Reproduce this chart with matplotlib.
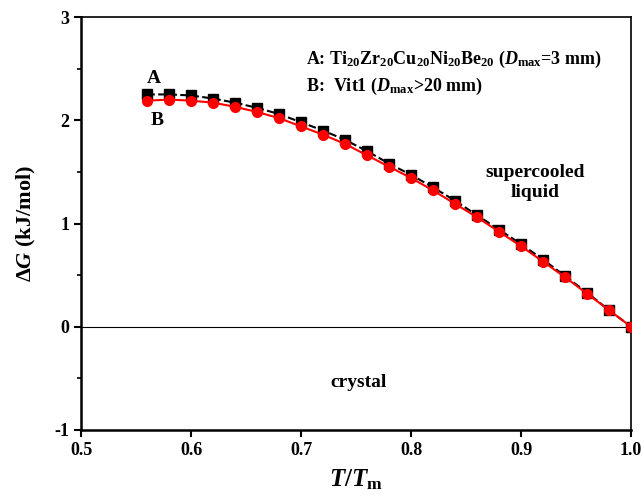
import matplotlib

matplotlib.use("Agg")
import matplotlib.pyplot as plt
from matplotlib.ticker import MultipleLocator

plt.rcParams["font.family"] = "Liberation Serif"
plt.rcParams["font.weight"] = "bold"
plt.rcParams["axes.labelweight"] = "bold"
plt.rcParams["mathtext.fontset"] = "custom"
plt.rcParams["mathtext.rm"] = "Liberation Serif:bold"
plt.rcParams["mathtext.it"] = "Liberation Serif:bold:italic"
plt.rcParams["mathtext.bf"] = "Liberation Serif:bold"

# reduced temperature T/Tm
t_ratio = [0.56, 0.58, 0.60, 0.62, 0.64, 0.66, 0.68, 0.70, 0.72, 0.74, 0.76, 0.78,
           0.80, 0.82, 0.84, 0.86, 0.88, 0.90, 0.92, 0.94, 0.96, 0.98, 1.00]
# Gibbs free energy difference, kJ/mol
dg_a = [2.25, 2.25, 2.24, 2.21, 2.17, 2.12, 2.06, 1.98, 1.90, 1.81, 1.70, 1.58,
        1.47, 1.35, 1.22, 1.08, 0.94, 0.80, 0.65, 0.49, 0.33, 0.16, 0.00]
dg_b = [2.19, 2.20, 2.19, 2.17, 2.13, 2.08, 2.02, 1.94, 1.86, 1.77, 1.66, 1.55,
        1.44, 1.32, 1.19, 1.06, 0.92, 0.78, 0.63, 0.48, 0.32, 0.16, 0.00]

fig = plt.figure(figsize=(6.44, 5.0), dpi=100)
ax = fig.add_axes([0.126, 0.14, 0.854, 0.826])

ax.axhline(0, color="black", linewidth=0.8)
ax.plot(t_ratio, dg_a, color="black", linestyle="--", linewidth=1.5,
        marker="s", markersize=6.5, zorder=3)
ax.plot(t_ratio, dg_b, color="red", linestyle="-", linewidth=1.5,
        marker="o", markersize=7, zorder=4)

ax.set_xlim(0.5, 1.0)
ax.set_ylim(-1, 3)
ax.yaxis.set_minor_locator(MultipleLocator(0.5))
ax.set_xticks([0.5, 0.6, 0.7, 0.8, 0.9, 1.0])
ax.set_xticklabels(["0.5", "0.6", "0.7", "0.8", "0.9", "1.0"])
ax.set_yticks([-1, 0, 1, 2, 3])
ax.set_yticklabels(["-1", "0", "1", "2", "3"])
ax.tick_params(which="major", direction="out", length=5, width=1.5, labelsize=13)
ax.tick_params(which="minor", direction="out", length=3, width=1.2)
for side in ("left", "bottom"):
    ax.spines[side].set_linewidth(1.8)
for side in ("top", "right"):
    ax.spines[side].set_linewidth(1.2)

ax.set_xlabel(r"$T$/$T_{\mathrm{m}}$", fontsize=18, labelpad=6)
ax.set_ylabel(r"$\Delta G$ (kJ/mol)", fontsize=16, labelpad=12)

ax.text(0.704, 2.55,
        r"A: Ti$_{20}$Zr$_{20}$Cu$_{20}$Ni$_{20}$Be$_{20}$ ($D_{\mathrm{max}}$=3 mm)",
        fontsize=13)
ax.text(0.704, 2.28, r"B:  Vit1 ($D_{\mathrm{max}}$>20 mm)", fontsize=13)
ax.text(0.56, 2.36, "A", fontsize=14)
ax.text(0.563, 1.95, "B", fontsize=14)
ax.text(0.913, 1.40, "supercooled\nliquid", fontsize=14, ha="center",
        va="center", linespacing=1.2)
ax.text(0.752, -0.58, "crystal", fontsize=14, ha="center")

fig.savefig("out.png", dpi=100)
